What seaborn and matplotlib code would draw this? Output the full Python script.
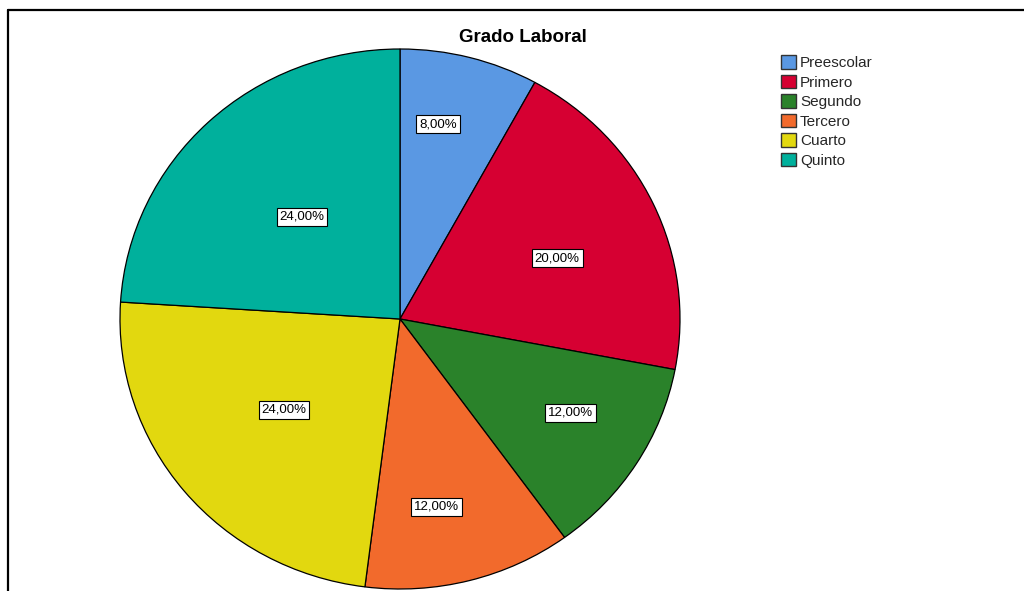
import matplotlib
matplotlib.use("Agg")
import matplotlib.pyplot as plt
from matplotlib.lines import Line2D
from matplotlib.patches import Patch
import numpy as np
import seaborn as sns

# Data
categories = ["Preescolar", "Primero", "Segundo", "Tercero", "Cuarto", "Quinto"]
percentages = [8.0, 20.0, 12.0, 12.0, 24.0, 24.0]
slice_colors = ["#5A98E3", "#D60032", "#2A822A", "#F26A2C", "#E2D80F", "#00B09C"]
title = "Grado Laboral"

sns.set_theme(style="white")
plt.rcParams["font.family"] = ["Liberation Sans", "DejaVu Sans"]
palette = sns.color_palette(slice_colors)

W, H = 1024, 591
fig = plt.figure(figsize=(W / 100, H / 100), dpi=100)
fig.patch.set_facecolor("white")

# Pie area (in pixels): centre (400, 319), horizontal radius 280, vertical radius 270
cx, cy, rx, ry = 400, 319, 280, 270
ax = fig.add_axes([(cx - rx) / W, (H - cy - ry) / H, 2 * rx / W, 2 * ry / H])

wedges, _ = ax.pie(
    percentages,
    colors=palette,
    startangle=90,
    counterclock=False,
    wedgeprops=dict(edgecolor="black", linewidth=0.9),
)
ax.set_aspect("auto")
ax.set_xlim(-1, 1)
ax.set_ylim(-1, 1)

# Percentage labels placed near each slice's bisector
label_radius = [0.735, 0.605, 0.70, 0.708, 0.534, 0.515]
label_shift = [3.7, -3.3, 2.6, -3.9, -0.5, -0.4]  # degrees off the bisector
cum = np.cumsum([0] + percentages)
for i, p in enumerate(percentages):
    mid = 90 - (cum[i] + p / 2) / 100 * 360 + label_shift[i]
    theta = np.deg2rad(mid)
    r = label_radius[i]
    ax.text(
        r * np.cos(theta), r * np.sin(theta),
        f"{p:.2f}%".replace(".", ","),
        ha="center", va="center", fontsize=9.5, color="black",
        bbox=dict(boxstyle="square,pad=0.22", facecolor="white", edgecolor="black", linewidth=0.8),
    )

fig.text(523 / W, 1 - 38 / H, title, ha="center", va="center",
         fontsize=13.5, fontweight="bold", color="black")

handles = [Patch(facecolor=c, edgecolor="#333333", linewidth=1.0) for c in palette]
fig.legend(
    handles, categories,
    loc="upper left", bbox_to_anchor=(781 / W, 1 - 55 / H),
    frameon=False, fontsize=11, handlelength=1.0, handleheight=1.0,
    handletextpad=0.25, labelspacing=0.29, borderaxespad=0, borderpad=0,
)

# Outer frame: top and left rules
fig.add_artist(Line2D([8 / W, 1], [1 - 10 / H, 1 - 10 / H], color="black", linewidth=1.6))
fig.add_artist(Line2D([8 / W, 8 / W], [0, 1 - 10 / H], color="black", linewidth=1.6))

fig.savefig("out.png", dpi=100, facecolor="white")
